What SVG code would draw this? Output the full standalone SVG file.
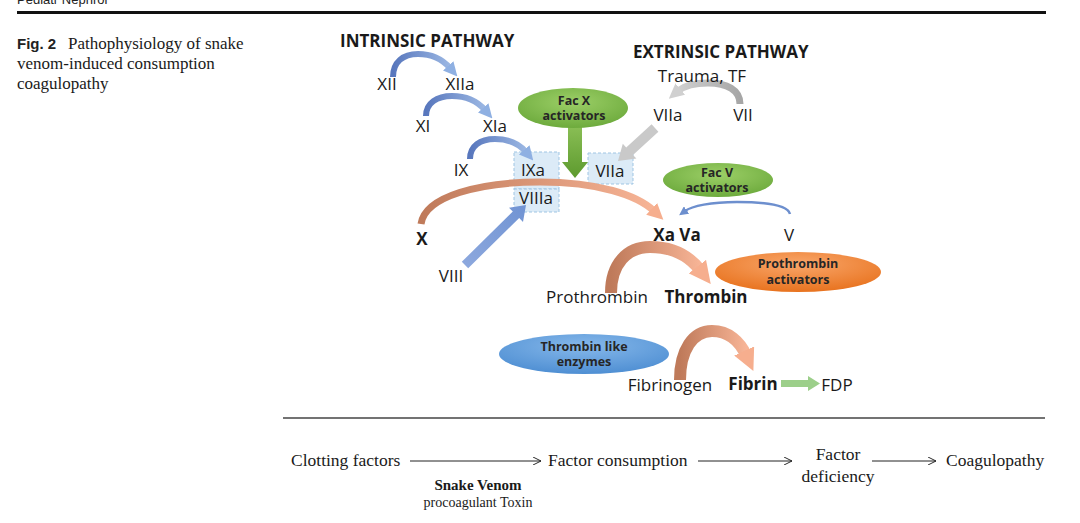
<svg xmlns="http://www.w3.org/2000/svg" width="1080" height="523" viewBox="0 0 1080 523">
<defs>
<style>
.d{font-family:"Open Sans","Noto Sans",sans-serif;fill:#1a1a1a;font-size:17px}
.b{font-weight:bold}
.e{font-family:"Open Sans","Noto Sans",sans-serif;font-weight:bold;font-size:12.5px;fill:#262626;text-anchor:middle}
.s{font-family:"Liberation Serif",serif;fill:#1a1a1a}
.box{fill:#dcebf7;stroke:#9fc5e3;stroke-width:1;stroke-dasharray:3,2}
.thin{stroke:#222;stroke-width:1;fill:none;marker-end:url(#open)}
</style>
<linearGradient id="gBlue" x1="0" y1="0" x2="1" y2="0"><stop offset="0" stop-color="#5877bd"/><stop offset="1" stop-color="#9bb7e3"/></linearGradient>
<linearGradient id="gBrown" x1="0" y1="0" x2="1" y2="0"><stop offset="0" stop-color="#bf7a5a"/><stop offset="1" stop-color="#f7b496"/></linearGradient>
<linearGradient id="gGray" x1="1" y1="0" x2="0" y2="0"><stop offset="0" stop-color="#a6a6a6"/><stop offset="1" stop-color="#d0d0d0"/></linearGradient>
<linearGradient id="gBlueS" x1="0" y1="1" x2="1" y2="0"><stop offset="0" stop-color="#8ea9de"/><stop offset="1" stop-color="#7093d3"/></linearGradient>
<linearGradient id="gGreen" x1="0" y1="0" x2="0" y2="1"><stop offset="0" stop-color="#8dc158"/><stop offset="1" stop-color="#5d9a2e"/></linearGradient>
<radialGradient id="eGreen" cx="0.5" cy="0.35" r="0.7"><stop offset="0" stop-color="#9ccf67"/><stop offset="1" stop-color="#6aa83a"/></radialGradient>
<radialGradient id="eOrange" cx="0.5" cy="0.3" r="0.7"><stop offset="0" stop-color="#f9a66a"/><stop offset="1" stop-color="#e8731f"/></radialGradient>
<radialGradient id="eBlue" cx="0.5" cy="0.3" r="0.7"><stop offset="0" stop-color="#86b8ea"/><stop offset="1" stop-color="#4f8fd3"/></radialGradient>
<marker id="hBlue" viewBox="0 0 10 10" refX="2" refY="5" markerWidth="14" markerHeight="14" markerUnits="userSpaceOnUse" orient="auto"><path d="M0,0 L10,5 L0,10 z" fill="#8fb0e2"/></marker>
<marker id="hBlueS" viewBox="0 0 10 10" refX="2" refY="5" markerWidth="9" markerHeight="9" markerUnits="userSpaceOnUse" orient="auto"><path d="M0,0 L10,5 L0,10 z" fill="#6d8fce"/></marker>
<marker id="hBrown" viewBox="0 0 10 10" refX="2" refY="5" markerWidth="16" markerHeight="16" markerUnits="userSpaceOnUse" orient="auto"><path d="M0,0 L10,5 L0,10 z" fill="#f6ae8e"/></marker>
<marker id="hBrownL" viewBox="0 0 10 10" refX="2" refY="5" markerWidth="22" markerHeight="22" markerUnits="userSpaceOnUse" orient="auto"><path d="M0,0 L10,5 L0,10 z" fill="#f6ae8e"/></marker>
<marker id="hGray" viewBox="0 0 10 10" refX="2" refY="5" markerWidth="15" markerHeight="15" markerUnits="userSpaceOnUse" orient="auto"><path d="M0,0 L10,5 L0,10 z" fill="#d0d0d0"/></marker>
<marker id="open" viewBox="0 0 10 10" refX="10" refY="5" markerWidth="8" markerHeight="8" markerUnits="userSpaceOnUse" orient="auto"><path d="M0,0 L10,5 L0,10" fill="none" stroke="#222" stroke-width="1.2"/></marker>
</defs>

<!-- page header -->
<text x="17" y="4" font-family="Liberation Sans,sans-serif" font-size="13" fill="#222">Pediatr Nephrol</text>
<rect x="17" y="11" width="1029" height="3" fill="#111"/>

<!-- caption -->
<text x="17" y="49" font-family="Liberation Sans,sans-serif" font-weight="bold" font-size="15" fill="#222">Fig. 2</text>
<text x="68" y="49" class="s" font-size="17">Pathophysiology of snake</text>
<text x="17" y="69" class="s" font-size="17">venom-induced consumption</text>
<text x="17" y="89" class="s" font-size="17">coagulopathy</text>

<!-- boxes -->
<g id="box-ixa"><rect class="box" x="514" y="152" width="45" height="37"/></g>
<g id="box-viiia"><rect class="box" x="514" y="189" width="45" height="23"/></g>
<g id="box-viia"><rect class="box" x="588" y="153" width="45" height="31"/></g>

<g id="connectors">
  <path d="M393,77 C393,62 403,54 418,54 C432,54 443,60 450,68" fill="none" stroke="url(#gBlue)" stroke-width="6" marker-end="url(#hBlue)"/>
  <path d="M426,116 C426,103 437,96 452,96 C467,96 478,102 485,110" fill="none" stroke="url(#gBlue)" stroke-width="6" marker-end="url(#hBlue)"/>
  <path d="M470,159 C470,146 480,139 495,139 C510,139 520,145 526,152" fill="none" stroke="url(#gBlue)" stroke-width="6" marker-end="url(#hBlue)"/>
  <path d="M740,104 C740,90 727,83 708,83 C694,83 684,86 678,91" fill="none" stroke="url(#gGray)" stroke-width="7" marker-end="url(#hGray)"/>
  <polygon points="651.6,124.3 626.2,147.5 622.8,143.8 618,161 636.4,158.6 633,154.9 658.4,131.7" fill="#c9c9c9"/>
  <polygon points="568,122 582,122 582,162 588,162 575,178 562,162 568,162" fill="url(#gGreen)"/>
  <path d="M421,224 C425,196 480,182 540,182 C598,182 637,195 654,211" fill="none" stroke="url(#gBrown)" stroke-width="7" marker-end="url(#hBrown)"/>
  <polygon points="461.8,261.8 512.8,211.6 509,207.7 526,205 523,222 519.2,218 468.2,268.2" fill="url(#gBlueS)"/>
  <path d="M790,214 C788,205 765,202 737,202 C711,202 692,206 685,211" fill="none" stroke="#6d8fce" stroke-width="2.5" marker-end="url(#hBlueS)"/>
  <path d="M611,293 C611,264 627,247 650,247 C674,247 690,257 700,270" fill="none" stroke="url(#gBrown)" stroke-width="12" marker-end="url(#hBrownL)"/>
  <path d="M680,380 C680,350 693,331 712,331 C729,331 740,342 746,355" fill="none" stroke="url(#gBrown)" stroke-width="12" marker-end="url(#hBrownL)"/>
  <polygon points="781,380 808,380 808,376 820,383.5 808,391 808,387 781,387" fill="#9ccf8a"/>
  <line x1="410" y1="461" x2="541" y2="461" class="thin"/>
  <line x1="698" y1="461" x2="792" y2="461" class="thin"/>
  <line x1="872" y1="461" x2="936" y2="461" class="thin"/>
</g>

<!-- titles -->
<text x="340" y="47" class="d b" font-size="15.5">INTRINSIC PATHWAY</text>
<text x="633" y="58" class="d b" font-size="15.5">EXTRINSIC PATHWAY</text>

<g id="n-trauma"><text x="702" y="82" class="d" text-anchor="middle">Trauma, TF</text></g>
<g id="n-xii"><text x="387" y="90" class="d" text-anchor="middle">XII</text></g>
<g id="n-xiia"><text x="460" y="90" class="d" text-anchor="middle">XIIa</text></g>
<g id="n-xi"><text x="423" y="132" class="d" text-anchor="middle">XI</text></g>
<g id="n-xia"><text x="495" y="132" class="d" text-anchor="middle">XIa</text></g>
<g id="n-ix"><text x="461" y="176" class="d" text-anchor="middle">IX</text></g>
<g id="n-ixa"><text x="533" y="176" class="d" text-anchor="middle">IXa</text></g>
<g id="n-viiia"><text x="536" y="204" class="d" text-anchor="middle">VIIIa</text></g>
<g id="n-viia-box"><text x="610" y="177" class="d" text-anchor="middle">VIIa</text></g>
<g id="n-viia"><text x="668" y="121" class="d" text-anchor="middle">VIIa</text></g>
<g id="n-vii"><text x="743" y="121" class="d" text-anchor="middle">VII</text></g>
<g id="n-x"><text x="422" y="245" class="d b" text-anchor="middle">X</text></g>
<g id="n-viii"><text x="451" y="282" class="d" text-anchor="middle">VIII</text></g>
<g id="n-xava"><text x="677" y="241" class="d b" text-anchor="middle">Xa Va</text></g>
<g id="n-v"><text x="789" y="241" class="d" text-anchor="middle">V</text></g>
<g id="n-prothrombin"><text x="597" y="303" class="d" text-anchor="middle">Prothrombin</text></g>
<g id="n-thrombin"><text x="706" y="303" class="d b" text-anchor="middle">Thrombin</text></g>
<g id="n-fibrinogen"><text x="670" y="391" class="d" text-anchor="middle">Fibrinogen</text></g>
<g id="n-fibrin"><text x="753" y="390" class="d b" text-anchor="middle">Fibrin</text></g>
<g id="n-fdp"><text x="837" y="391" class="d" text-anchor="middle">FDP</text></g>

<g id="n-facx">
  <ellipse cx="573" cy="108" rx="55" ry="20" fill="url(#eGreen)"/>
  <text x="574" y="105" class="e">Fac X</text>
  <text x="574" y="120" class="e">activators</text>
</g>
<g id="n-facv">
  <ellipse cx="718" cy="180" rx="55" ry="17" fill="url(#eGreen)"/>
  <text x="717" y="177" class="e">Fac V</text>
  <text x="717" y="192" class="e">activators</text>
</g>
<g id="n-prothact">
  <ellipse cx="798" cy="272" rx="83" ry="20" fill="url(#eOrange)"/>
  <text x="798" y="268" class="e">Prothrombin</text>
  <text x="798" y="284" class="e">activators</text>
</g>
<g id="n-tle">
  <ellipse cx="584" cy="354" rx="85" ry="20" fill="url(#eBlue)"/>
  <text x="584" y="351" class="e">Thrombin like</text>
  <text x="584" y="366" class="e">enzymes</text>
</g>

<!-- bottom section -->
<line x1="283" y1="418" x2="1045" y2="418" stroke="#444" stroke-width="1.5"/>
<g id="b-clotting"><text x="291" y="466" class="s" font-size="17.5">Clotting factors</text></g>
<g id="b-venom">
  <text x="478" y="490" class="s" font-size="15" font-weight="bold" text-anchor="middle">Snake Venom</text>
  <text x="478" y="507" class="s" font-size="14" text-anchor="middle">procoagulant Toxin</text>
</g>
<g id="b-consumption"><text x="548" y="466" class="s" font-size="17.5">Factor consumption</text></g>
<g id="b-deficiency">
  <text x="838" y="460" class="s" font-size="17.5" text-anchor="middle">Factor</text>
  <text x="838" y="482" class="s" font-size="17.5" text-anchor="middle">deficiency</text>
</g>
<g id="b-coag"><text x="946" y="466" class="s" font-size="17.5">Coagulopathy</text></g>
</svg>
